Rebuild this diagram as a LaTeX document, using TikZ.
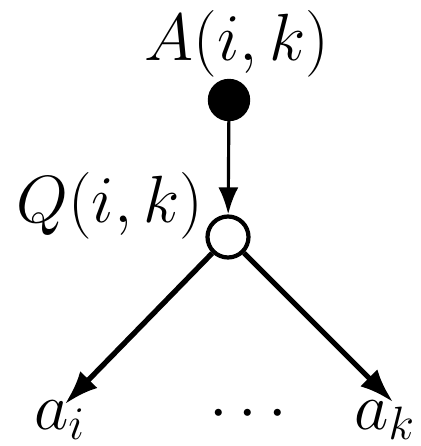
\documentclass[tikz,border=0pt]{standalone}
\usepackage{fix-cm}
\usepackage{tikz}
\usetikzlibrary{arrows.meta,positioning}
\tikzset{
  fullnode/.style={circle, fill=black, draw=black, inner sep=0pt, minimum size=4.1mm},
  emptynode/.style={circle, fill=white, draw=black, line width=1.2pt, inner sep=0pt, minimum size=4.1mm},
  lbl/.style={inner sep=0pt, anchor=base}
}
\begin{document}
\begin{tikzpicture}[x=0.1mm,y=0.1mm,font=\fontsize{19}{23}\selectfont]
\useasboundingbox (0,0) rectangle (421,446);

% the two tree nodes
\node[fullnode] (A) at (229,346) {};
\node[emptynode] (Q) at (228,209) {};

% labels
\node[lbl] (Alab) at (237,386) {$A(i,k)$};
\node[lbl] (Qlab) at (110,224) {$Q(i,k)$};
\node[lbl] (ai) at (60,17) {$a_i$};
\node[lbl] (ak) at (385,17) {$a_k$};
\node[lbl] (dots) at (248,17) {$\cdots$};

% arrow ends above the leaves
\coordinate (ti) at (65,42);
\coordinate (tk) at (393,44);

\draw[-{Latex[length=2.7mm,width=2mm]}, line width=0.9pt] (A) -- (Q);
\draw[-{Latex[length=3.4mm,width=2.4mm]}, line width=1.5pt] (Q) -- (ti);
\draw[-{Latex[length=3.4mm,width=2.4mm]}, line width=1.5pt] (Q) -- (tk);
\end{tikzpicture}
\end{document}
